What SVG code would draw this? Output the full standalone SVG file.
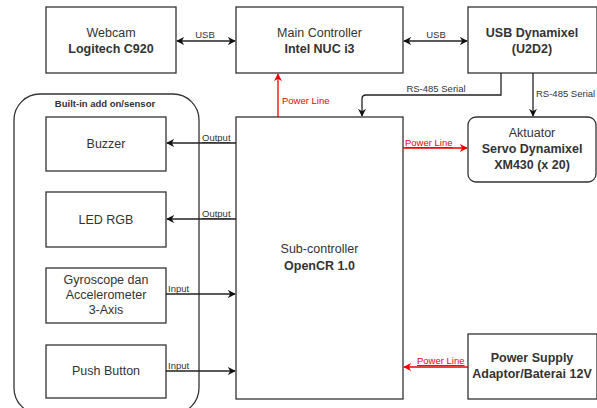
<svg xmlns="http://www.w3.org/2000/svg" width="597" height="408" viewBox="0 0 597 408">
<defs>
<style>
.box{fill:#fff;stroke:#333;stroke-width:1.3}
.t{font-family:"Liberation Sans",Arial,sans-serif;font-size:12.5px;fill:#333;text-anchor:middle}
.b{font-weight:bold}
.lbl{font-family:"Liberation Sans",Arial,sans-serif;font-size:9.5px;fill:#333}
.red{fill:#e00}
.c{fill:none;stroke:#222;stroke-width:1.3}
.cr{fill:none;stroke:#e00;stroke-width:1.3}
</style>
<marker id="a" viewBox="0 0 10 10" refX="9" refY="5" markerWidth="8" markerHeight="8" orient="auto-start-reverse" markerUnits="userSpaceOnUse"><path d="M0,0 L10,5 L0,10 L3,5 Z" fill="#111"/></marker>
<marker id="ar" viewBox="0 0 10 10" refX="9" refY="5" markerWidth="8" markerHeight="8" orient="auto-start-reverse" markerUnits="userSpaceOnUse"><path d="M0,0 L10,5 L0,10 L3,5 Z" fill="#e00"/></marker>
</defs>
<rect width="597" height="408" fill="#fff"/>

<g id="group-builtin">
<rect x="14" y="94" width="185" height="320" rx="26" ry="26" class="box"/>
<text x="105" y="107" class="t b" style="font-size:9.5px">Built-in add on/sensor</text>
</g>

<g id="webcam"><rect x="46" y="7" width="130" height="66" class="box"/>
<text x="111" y="37" class="t">Webcam</text><text x="111" y="53" class="t b">Logitech C920</text></g>

<g id="main"><rect x="236" y="7" width="167" height="66" class="box"/>
<text x="319.5" y="37" class="t">Main Controller</text><text x="319.5" y="53" class="t b">Intel NUC i3</text></g>

<g id="u2d2"><rect x="468" y="7" width="129" height="66" class="box"/>
<text x="532" y="37" class="t b">USB Dynamixel</text><text x="532" y="53" class="t b">(U2D2)</text></g>

<g id="aktuator"><rect x="468" y="117" width="128" height="65" rx="8" ry="8" class="box"/>
<text x="532" y="137" class="t">Aktuator</text><text x="532" y="153" class="t b">Servo Dynamixel</text><text x="532" y="169" class="t b">XM430 (x 20)</text></g>

<g id="sub"><rect x="236" y="117" width="167" height="282" class="box"/>
<text x="319.5" y="253" class="t">Sub-controller</text><text x="319.5" y="270" class="t b">OpenCR 1.0</text></g>

<g id="power"><rect x="468" y="334" width="129" height="65" class="box"/>
<text x="532" y="362" class="t b">Power Supply</text><text x="532" y="378" class="t b">Adaptor/Baterai 12V</text></g>

<g id="buzzer"><rect x="46" y="117" width="120" height="54" class="box"/>
<text x="106" y="148" class="t">Buzzer</text></g>

<g id="led"><rect x="46" y="192" width="120" height="55" class="box"/>
<text x="106" y="224" class="t">LED RGB</text></g>

<g id="gyro"><rect x="46" y="268" width="120" height="55" class="box"/>
<text x="106" y="284" class="t">Gyroscope dan</text><text x="106" y="299" class="t">Accelerometer</text><text x="106" y="314" class="t">3-Axis</text></g>

<g id="button"><rect x="46" y="345" width="120" height="53" class="box"/>
<text x="106" y="375" class="t">Push Button</text></g>

<g id="connectors">
<line x1="177" y1="41" x2="235" y2="41" class="c" marker-start="url(#a)" marker-end="url(#a)"/>
<text x="205" y="38" class="lbl" text-anchor="middle">USB</text>
<line x1="404" y1="41" x2="467" y2="41" class="c" marker-start="url(#a)" marker-end="url(#a)"/>
<text x="436" y="38" class="lbl" text-anchor="middle">USB</text>

<path d="M501,73 V95 H366 Q362,95 362,99 V116" class="c" marker-end="url(#a)"/>
<text x="436" y="92" class="lbl" text-anchor="middle">RS-485 Serial</text>
<line x1="533" y1="73" x2="533" y2="116" class="c" marker-end="url(#a)"/>
<text x="536" y="97" class="lbl">RS-485 Serial</text>

<line x1="278" y1="117" x2="278" y2="74" class="cr" marker-end="url(#ar)"/>
<text x="282" y="104" class="lbl red">Power Line</text>

<line x1="403" y1="148" x2="467" y2="148" class="cr" marker-end="url(#ar)"/>
<text x="405" y="146" class="lbl red" text-decoration="underline">Power Line</text>

<line x1="468" y1="367" x2="404" y2="367" class="cr" marker-end="url(#ar)"/>
<text x="417" y="364" class="lbl red" text-decoration="underline">Power Line</text>

<line x1="236" y1="143" x2="167" y2="143" class="c" marker-end="url(#a)"/>
<text x="202" y="141" class="lbl" text-decoration="underline">Output</text>
<line x1="236" y1="219" x2="167" y2="219" class="c" marker-end="url(#a)"/>
<text x="202" y="217" class="lbl" text-decoration="underline">Output</text>

<line x1="166" y1="294" x2="235" y2="294" class="c" marker-end="url(#a)"/>
<text x="168" y="292" class="lbl">Input</text>
<line x1="166" y1="371" x2="235" y2="371" class="c" marker-end="url(#a)"/>
<text x="168" y="369" class="lbl">Input</text>
</g>
</svg>
